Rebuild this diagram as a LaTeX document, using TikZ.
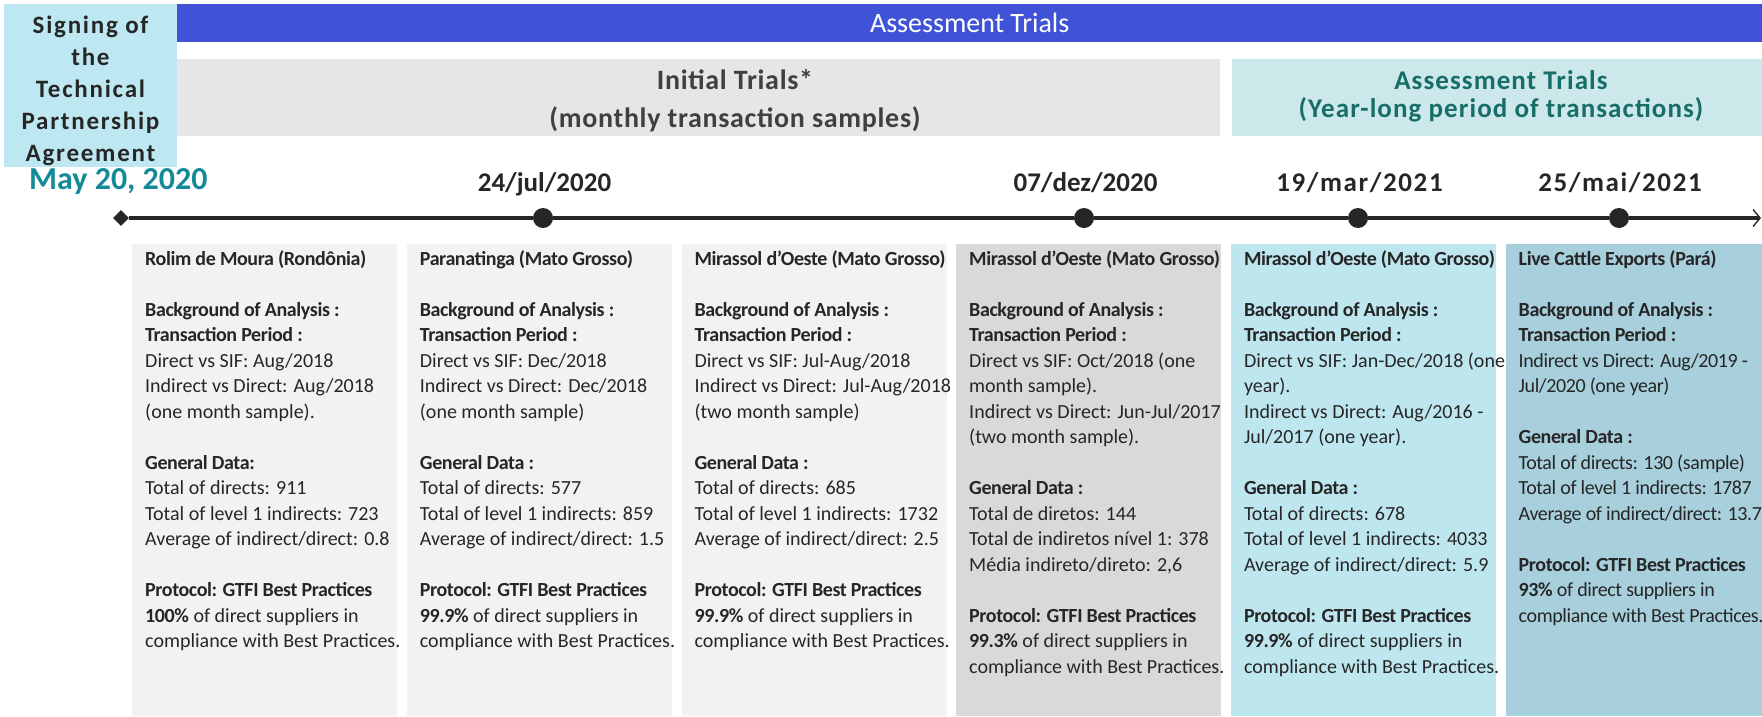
\documentclass[tikz,border=0pt]{standalone}
\usepackage{fontspec}
\setmainfont{Carlito}
\usetikzlibrary{shapes.geometric,arrows.meta}
\definecolor{ink}{HTML}{262626}
\definecolor{barblue}{HTML}{4053D6}
\definecolor{signc}{HTML}{BDE8F1}
\definecolor{grayband}{HTML}{E6E6E6}
\definecolor{tealband}{HTML}{CDE8EB}
\definecolor{tealtext}{HTML}{176E68}
\definecolor{mayc}{HTML}{128A98}
\definecolor{headgray}{HTML}{404040}
\definecolor{collight}{HTML}{F2F2F2}
\definecolor{coldark}{HTML}{D9D9D9}
\definecolor{colcyan}{HTML}{BEE6EF}
\definecolor{colteal}{HTML}{A7CFDC}
\newcommand{\bo}[1]{{\bfseries\addfontfeature{LetterSpace=-2}#1}}
\newcommand{\fst}{\rule{0pt}{17pt}}
\begin{document}
\begin{tikzpicture}[x=1pt,y=-1pt,
  boxn/.style={anchor=north west, inner sep=0, draw=none},
  colbox/.style={boxn, minimum width=265pt, minimum height=472pt},
  coltext/.style={anchor=north west, align=left, inner sep=0, text=ink, font=\fontsize{20}{25.5}\selectfont},
  datelbl/.style={anchor=base, inner sep=0, text=ink, font=\fontsize{27}{30}\selectfont\bfseries},
  tl/.style={draw=ink, line width=3.5pt},
  dot/.style={circle, fill=ink, minimum size=20pt, inner sep=0}]
\useasboundingbox (0,0) rectangle (1762,716);
% top bands
\node[boxn, fill=signc, minimum width=173pt, minimum height=163pt] (sign) at (4,4) {};
\node[anchor=base, align=center, inner sep=0, text=ink, font=\fontsize{25}{32}\selectfont\bfseries\addfontfeature{LetterSpace=7}] (signt) at (90.5,161) {Signing of\\the\\Technical\\Partnership\\Agreement};
\node[boxn, fill=barblue, minimum width=1585pt, minimum height=38pt, text=white, font=\fontsize{28}{30}\selectfont] (bar) at (177,4) {Assessment Trials};
\node[boxn, fill=grayband, minimum width=1043pt, minimum height=77pt] (gband) at (177,59) {};
\node[anchor=base, align=center, inner sep=0, text=headgray, font=\fontsize{28}{38}\selectfont\bfseries\addfontfeature{LetterSpace=2.5}] (gtext) at (735,127) {Initial Trials*\\(monthly transaction samples)};
\node[boxn, fill=tealband, minimum width=530pt, minimum height=77pt] (tband) at (1232,59) {};
\node[anchor=base, align=center, inner sep=0, text=tealtext, font=\fontsize{27}{28}\selectfont\bfseries\addfontfeature{LetterSpace=4}] (ttext) at (1501,117) {Assessment Trials\\(Year-long period of transactions)};
% dates
\node[anchor=base west, inner sep=0, text=mayc, font=\fontsize{32}{34}\selectfont\bfseries] (may) at (29,189) {May 20, 2020};
\node[datelbl] (t1) at (544.5,191) {24/jul/2020};
\node[datelbl] (t2) at (1085.5,191) {07/dez/2020};
\node[datelbl, font=\fontsize{27}{30}\selectfont\bfseries\addfontfeature{LetterSpace=6}] (t3) at (1359.5,191) {19/mar/2021};
\node[datelbl, font=\fontsize{27}{30}\selectfont\bfseries\addfontfeature{LetterSpace=6}] (t4) at (1620,191) {25/mai/2021};
% timeline
\node[diamond, fill=ink, minimum size=16pt, inner sep=0] (start) at (121,218) {};
\node[dot] (d1) at (543,218) {};
\node[dot] (d2) at (1084,218) {};
\node[dot] (d3) at (1358,218) {};
\node[dot] (d4) at (1619,218) {};
\coordinate (tip) at (1761,218);
\draw[tl] (start) -- (d1);
\draw[tl] (d1) -- (d2);
\draw[tl] (d2) -- (d3);
\draw[tl] (d3) -- (d4);
\draw[tl, -{Straight Barb[length=7pt, width=17pt, line width=1.4pt]}] (d4) -- (tip);
% columns
\node[colbox, fill=collight] (c1) at (132,244) {};
\node[colbox, fill=collight] (c2) at (406.7,244) {};
\node[colbox, fill=collight] (c3) at (681.4,244) {};
\node[colbox, fill=coldark] (c4) at (956,244) {};
\node[colbox, fill=colcyan] (c5) at (1230.8,244) {};
\node[colbox, fill=colteal, minimum width=256.5pt] (c6) at (1505.5,244) {};
\node[coltext] (x1) at (145,248) {\fst\bo{Rolim de Moura (Rondônia)}\\[25.5pt]
\bo{Background of Analysis :}\\
\bo{Transaction Period :}\\
Direct vs SIF: Aug/2018\\
Indirect vs Direct: Aug/2018\\
(one month sample).\\[25.5pt]
\bo{General Data:}\\
Total of directs: 911\\
Total of level 1 indirects: 723\\
Average of indirect/direct: 0.8\\[25.5pt]
\bo{Protocol: GTFI Best Practices}\\
\bo{100\%} of direct suppliers in\\
compliance with Best Practices.};
\node[coltext] (x2) at (419.7,248) {\fst\bo{Paranatinga (Mato Grosso)}\\[25.5pt]
\bo{Background of Analysis :}\\
\bo{Transaction Period :}\\
Direct vs SIF: Dec/2018\\
Indirect vs Direct: Dec/2018\\
(one month sample)\\[25.5pt]
\bo{General Data :}\\
Total of directs: 577\\
Total of level 1 indirects: 859\\
Average of indirect/direct: 1.5\\[25.5pt]
\bo{Protocol: GTFI Best Practices}\\
\bo{99.9\%} of direct suppliers in\\
compliance with Best Practices.};
\node[coltext] (x3) at (694.4,248) {\fst\bo{Mirassol d'Oeste (Mato Grosso)}\\[25.5pt]
\bo{Background of Analysis :}\\
\bo{Transaction Period :}\\
Direct vs SIF: Jul-Aug/2018\\
Indirect vs Direct: Jul-Aug/2018\\
(two month sample)\\[25.5pt]
\bo{General Data :}\\
Total of directs: 685\\
Total of level 1 indirects: 1732\\
Average of indirect/direct: 2.5\\[25.5pt]
\bo{Protocol: GTFI Best Practices}\\
\bo{99.9\%} of direct suppliers in\\
compliance with Best Practices.};
\node[coltext] (x4) at (969,248) {\fst\bo{Mirassol d'Oeste (Mato Grosso)}\\[25.5pt]
\bo{Background of Analysis :}\\
\bo{Transaction Period :}\\
Direct vs SIF: Oct/2018 (one\\
month sample).\\
Indirect vs Direct: Jun-Jul/2017\\
(two month sample).\\[25.5pt]
\bo{General Data :}\\
Total de diretos: 144\\
Total de indiretos nível 1: 378\\
Média indireto/direto: 2,6\\[25.5pt]
\bo{Protocol: GTFI Best Practices}\\
\bo{99.3\%} of direct suppliers in\\
compliance with Best Practices.};
\node[coltext] (x5) at (1243.8,248) {\fst\bo{Mirassol d'Oeste (Mato Grosso)}\\[25.5pt]
\bo{Background of Analysis :}\\
\bo{Transaction Period :}\\
Direct vs SIF: Jan-Dec/2018 (one\\
year).\\
Indirect vs Direct: Aug/2016 -\\
Jul/2017 (one year).\\[25.5pt]
\bo{General Data :}\\
Total of directs: 678\\
Total of level 1 indirects: 4033\\
Average of indirect/direct: 5.9\\[25.5pt]
\bo{Protocol: GTFI Best Practices}\\
\bo{99.9\%} of direct suppliers in\\
compliance with Best Practices.};
\node[coltext, font=\fontsize{20}{25.5}\selectfont\addfontfeature{LetterSpace=-2}] (x6) at (1518.5,248) {\fst\bo{Live Cattle Exports (Pará)}\\[25.5pt]
\bo{Background of Analysis :}\\
\bo{Transaction Period :}\\
Indirect vs Direct: Aug/2019 -\\
Jul/2020 (one year)\\[25.5pt]
\bo{General Data :}\\
Total of directs: 130 (sample)\\
Total of level 1 indirects: 1787\\
Average of indirect/direct: 13.7\\[25.5pt]
\bo{Protocol: GTFI Best Practices}\\
\bo{93\%} of direct suppliers in\\
compliance with Best Practices.};
\end{tikzpicture}
\end{document}
